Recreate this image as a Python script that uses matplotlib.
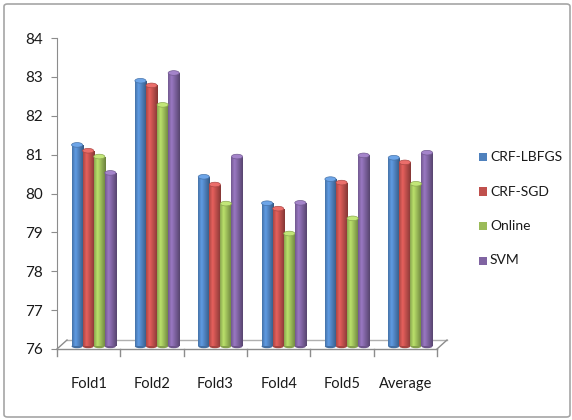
import matplotlib.pyplot as plt
import numpy as np
from matplotlib.patches import Rectangle, Ellipse, FancyBboxPatch
from matplotlib.colors import to_rgb

plt.rcParams['font.family'] = ['Lato', 'DejaVu Sans']

categories = ['Fold1', 'Fold2', 'Fold3', 'Fold4', 'Fold5', 'Average']
series_names = ['CRF-LBFGS', 'CRF-SGD', 'Online', 'SVM']
crf_lbfgs = [81.25, 82.9, 80.43, 79.75, 80.37, 80.92]
crf_sgd = [81.1, 82.78, 80.23, 79.61, 80.28, 80.8]
online = [80.95, 82.28, 79.74, 78.97, 79.36, 80.25]
svm = [80.53, 83.1, 80.95, 79.76, 80.98, 81.05]
colors = ['#4F81BD', '#C0504D', '#9BBB59', '#8064A2']

fig = plt.figure(figsize=(5.72, 4.20), dpi=100)
W, H = 572, 420
# rounded grey frame round the whole chart
fig.patches.append(FancyBboxPatch((4 / W, 3 / H), 566 / W, 413 / H,
                                  boxstyle='round,pad=0,rounding_size=0.006',
                                  transform=fig.transFigure, fill=False,
                                  edgecolor='#a6a6a6', linewidth=1.2))

ax = fig.add_axes([57 / W, (H - 349) / H, 380 / W, 311 / H])
ax.set_xlim(-0.5, 5.5)
ax.set_ylim(76, 84)

x = np.arange(len(categories))
bw = 0.175
shift = 0.08  # depth offset of the bars
profile = np.concatenate([np.linspace(0.88, 1.2, 30), np.linspace(1.2, 0.68, 70)])

for i, (vals, c) in enumerate(zip([crf_lbfgs, crf_sgd, online, svm], colors)):
    base = np.array(to_rgb(c))
    grad = np.clip(base[None, :] * profile[:, None], 0, 1)[None, :, :]
    xs = x + shift + (i - 1.5) * bw
    for xc, v in zip(xs, vals):
        rect = Rectangle((xc - bw / 2, 76.07), bw, v - 76.07, facecolor=c,
                         edgecolor='none', zorder=2)
        ax.add_patch(rect)
        im = ax.imshow(grad, extent=[xc - bw / 2, xc + bw / 2, 76.07, v],
                       aspect='auto', zorder=3, interpolation='bilinear')
        im.set_clip_path(rect)
        top = np.clip(base * 1.12 + 0.08, 0, 1)
        ax.add_patch(Ellipse((xc, v), bw, 0.12, facecolor=top,
                             edgecolor=base * 0.9, linewidth=0.5, zorder=4))
        ax.add_patch(Ellipse((xc, 76.07), bw, 0.1, facecolor=base * 0.85,
                             edgecolor='none', zorder=1))

axis_col = '#8c8c8c'
for s in ['top', 'right', 'bottom']:
    ax.spines[s].set_visible(False)
ax.spines['left'].set_color(axis_col)

# floor of the 3-D plot
fx, fy = 10 / 380, 9 / 311
ax.plot([0, 1], [0, 0], transform=ax.transAxes, color=axis_col, lw=1, clip_on=False)
ax.plot([fx, 1 + fx], [fy, fy], transform=ax.transAxes, color='#b0b0b0', lw=1,
        clip_on=False, zorder=0)
ax.plot([0, fx], [0, fy], transform=ax.transAxes, color=axis_col, lw=1, clip_on=False)
ax.plot([1, 1 + fx], [0, fy], transform=ax.transAxes, color=axis_col, lw=1, clip_on=False)
for b in np.arange(-0.5, 6.0, 1.0):
    ax.plot([b, b], [0, -7 / 311], transform=ax.get_xaxis_transform(),
            color=axis_col, lw=1, clip_on=False)

ax.set_yticks(np.arange(76, 85, 1))
ax.tick_params(axis='y', colors=axis_col, length=4, labelsize=11, labelcolor='#1a1a1a', pad=6)
ax.set_xticks(x)
ax.set_xticklabels(categories)
ax.tick_params(axis='x', length=0, labelsize=10.5, labelcolor='#1a1a1a', pad=20)

# legend
for i, (name, c) in enumerate(zip(series_names, colors)):
    yy = (H - (157 + 34.5 * i)) / H
    fig.patches.append(Rectangle((479 / W, yy - 4 / H), 8 / W, 8 / H, facecolor=c,
                                 edgecolor='none', transform=fig.transFigure))
    fig.text(490 / W, yy, name, fontsize=10, va='center', ha='left', color='#1a1a1a')

fig.savefig('out.png', dpi=100)
